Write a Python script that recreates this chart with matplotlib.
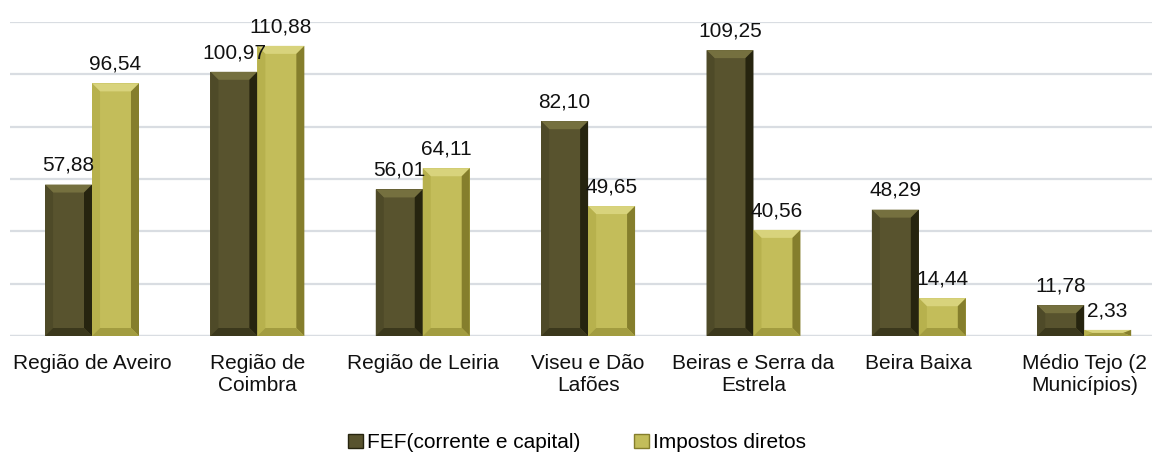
import matplotlib
matplotlib.use("Agg")
import matplotlib.pyplot as plt
from matplotlib.patches import Polygon, Patch

# dados
categorias = ["Região de Aveiro", "Região de\nCoimbra", "Região de Leiria",
              "Viseu e Dão\nLafões", "Beiras e Serra da\nEstrela", "Beira Baixa",
              "Médio Tejo (2\nMunicípios)"]
fef = [57.88, 100.97, 56.01, 82.10, 109.25, 48.29, 11.78]
impostos = [96.54, 110.88, 64.11, 49.65, 40.56, 14.44, 2.33]
series = ["FEF(corrente e capital)", "Impostos diretos"]

plt.rcParams['font.family'] = ['Liberation Sans Narrow', 'Liberation Sans', 'DejaVu Sans']

# cores: principal, topo, esquerda, direita, base
cor_escura = ["#58532E", "#75703F", "#4E4A28", "#26240F", "#3B381C"]
cor_clara = ["#C3BD5A", "#D8D37C", "#B7B14D", "#857E2C", "#A29C40"]

W, H = 1154, 455
fig = plt.figure(figsize=(W / 100, H / 100), dpi=100)
ax = fig.add_axes([10 / W, 119 / H, 1142 / W, 314 / H])

largura = 0.284
xlim = (-0.496, 6.41)
ylim = (0, 120)
ax.set_xlim(*xlim)
ax.set_ylim(*ylim)

px_x = 1142 / (xlim[1] - xlim[0])
px_y = 314 / (ylim[1] - ylim[0])


def bisel(x0, x1, y1, cores, b=8):
    bx = b / px_x
    by = min(b / px_y, y1 / 2)
    bx = min(bx, (x1 - x0) / 2)
    y0 = 0
    ax.add_patch(Polygon([(x0, y0), (x1, y0), (x1, y1), (x0, y1)], closed=True,
                         facecolor=cores[0], edgecolor="none", zorder=3))
    ax.add_patch(Polygon([(x0, y1), (x1, y1), (x1 - bx, y1 - by), (x0 + bx, y1 - by)],
                         facecolor=cores[1], edgecolor="none", zorder=4))
    ax.add_patch(Polygon([(x0, y0), (x0 + bx, y0 + by), (x0 + bx, y1 - by), (x0, y1)],
                         facecolor=cores[2], edgecolor="none", zorder=4))
    ax.add_patch(Polygon([(x1, y0), (x1 - bx, y0 + by), (x1 - bx, y1 - by), (x1, y1)],
                         facecolor=cores[3], edgecolor="none", zorder=4))
    ax.add_patch(Polygon([(x0, y0), (x1, y0), (x1 - bx, y0 + by), (x0 + bx, y0 + by)],
                         facecolor=cores[4], edgecolor="none", zorder=4))


for i in range(len(categorias)):
    for j, (vals, cores) in enumerate([(fef, cor_escura), (impostos, cor_clara)]):
        x0 = i - largura + j * largura
        v = vals[i]
        bisel(x0, x0 + largura, v, cores)
        ax.annotate(f"{v:.2f}".replace(".", ","), (x0 + largura / 2, v),
                    xytext=(0, 7), textcoords="offset points",
                    ha="center", va="bottom", fontsize=15, color="#111111", zorder=5)

for y in range(20, 121, 20):
    ax.axhline(y, color="#D9DDE2", lw=1.6, zorder=1)
ax.axhline(0, color="#D9DDE2", lw=2.5, zorder=2)

for s in ax.spines.values():
    s.set_visible(False)
ax.set_yticks([])
ax.set_xticks(range(len(categorias)))
ax.set_xticklabels(categorias, fontsize=15, color="#111111", linespacing=1.2)
ax.tick_params(axis="x", length=0, pad=13)

handles = [Patch(facecolor=cor_escura[0], edgecolor=cor_escura[3]),
           Patch(facecolor=cor_clara[0], edgecolor=cor_clara[3])]
fig.legend(handles, series, loc="lower center", bbox_to_anchor=(0.5, -0.035),
           ncol=2, frameon=False, fontsize=15, handlelength=0.7, handleheight=0.7,
           handletextpad=0.2, columnspacing=2.6)

fig.savefig("out.png", dpi=100)
